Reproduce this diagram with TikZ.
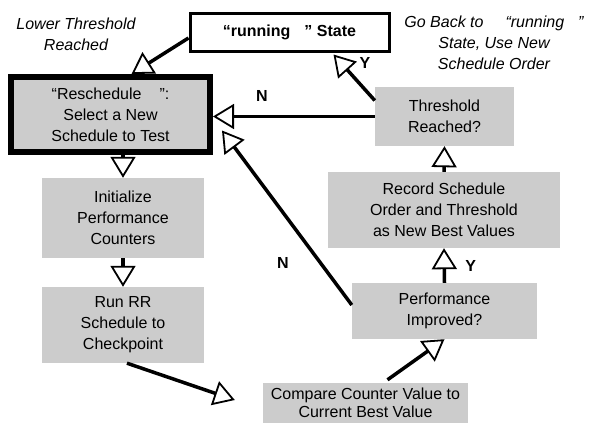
\documentclass[tikz,border=0pt]{standalone}
\usepackage{fontspec}
\setmainfont{Liberation Sans}
\usetikzlibrary{arrows.meta,calc}

\begin{document}
\begin{tikzpicture}[x=1pt,y=-1pt,
  box/.style={fill=black!20, align=center, inner sep=0pt, font=\fontsize{16}{21}\selectfont},
  arr/.style={line width=3.5pt, -{Triangle[fill=white, length=21pt, width=25pt, line width=1.8pt]}},
  lbl/.style={align=center, font=\fontsize{16}{21}\selectfont\itshape},
  yn/.style={font=\fontsize{16}{21}\selectfont\bfseries}]
  \useasboundingbox (0,0) rectangle (598,423);
  \node[box, fill=white, draw, line width=3pt, minimum width=199pt, minimum height=38pt, font=\fontsize{16}{21}\selectfont\bfseries] (running) at (289.5,32) {“running\hspace{14pt}” State};
  \node[box, draw, line width=6pt, minimum width=199pt, minimum height=75pt] (resched) at (110.5,114.5) {“Reschedule\hspace{18pt}”:\\Select a New\\Schedule to Test};
  \node[box, minimum width=162pt, minimum height=80pt] (init) at (123,218) {Initialize\\Performance\\Counters};
  \node[box, minimum width=162pt, minimum height=76pt] (runrr) at (123,325) {Run RR\\Schedule to\\Checkpoint};
  \node[box, minimum width=205pt, minimum height=40pt, font=\fontsize{16}{18}\selectfont] (compare) at (365.5,403) {Compare Counter Value to\\Current Best Value};
  \node[box, minimum width=185pt, minimum height=56pt] (perf) at (444.5,311) {Performance\\Improved?};
  \node[box, minimum width=232pt, minimum height=76pt] (record) at (444,210) {Record Schedule\\Order and Threshold\\as New Best Values};
  \node[box, minimum width=139pt, minimum height=59pt] (thresh) at (444.5,116.5) {Threshold\\Reached?};
  \node[lbl] (lower) at (76,34.5) {Lower Threshold\\Reached};
  \node[lbl] (goback) at (494,43) {Go Back to\hspace{22pt}“running\hspace{14pt}”\\State, Use New\\Schedule Order};
  \draw[arr] ([yshift=-6pt]running.west) -- ([xshift=21pt]resched.north);
  \draw[arr] (resched.south -| init.north) -- (init.north); \draw[arr] (init.south) -- (runrr.north);
  \draw[arr] ([xshift=4pt]runrr.south) -- ($(compare.west)+(-28,-3)$);
  \draw[arr] ([xshift=22pt,yshift=3pt]compare.north) -- (perf.south);
  \draw[arr] (perf.north) -- (record.south) node[yn, pos=0.5, right=16pt] (yrec) {Y};
  \draw[arr] (record.north) -- (thresh.south);
  \draw[arr] ([yshift=16pt]thresh.west) -- ([xshift=44pt,yshift=-2pt]running.south); \node[yn] (ythr) at (365,63) {Y};
  \draw[arr] (thresh.west) -- (thresh.west -| resched.east); \node[yn] (nthr) at (262,96) {N};
  \draw[arr] ([yshift=6pt]perf.west) -- ($(resched.east)+(9,16)$); \node[yn] (nperf) at (283,263) {N};
\end{tikzpicture}
\end{document}
